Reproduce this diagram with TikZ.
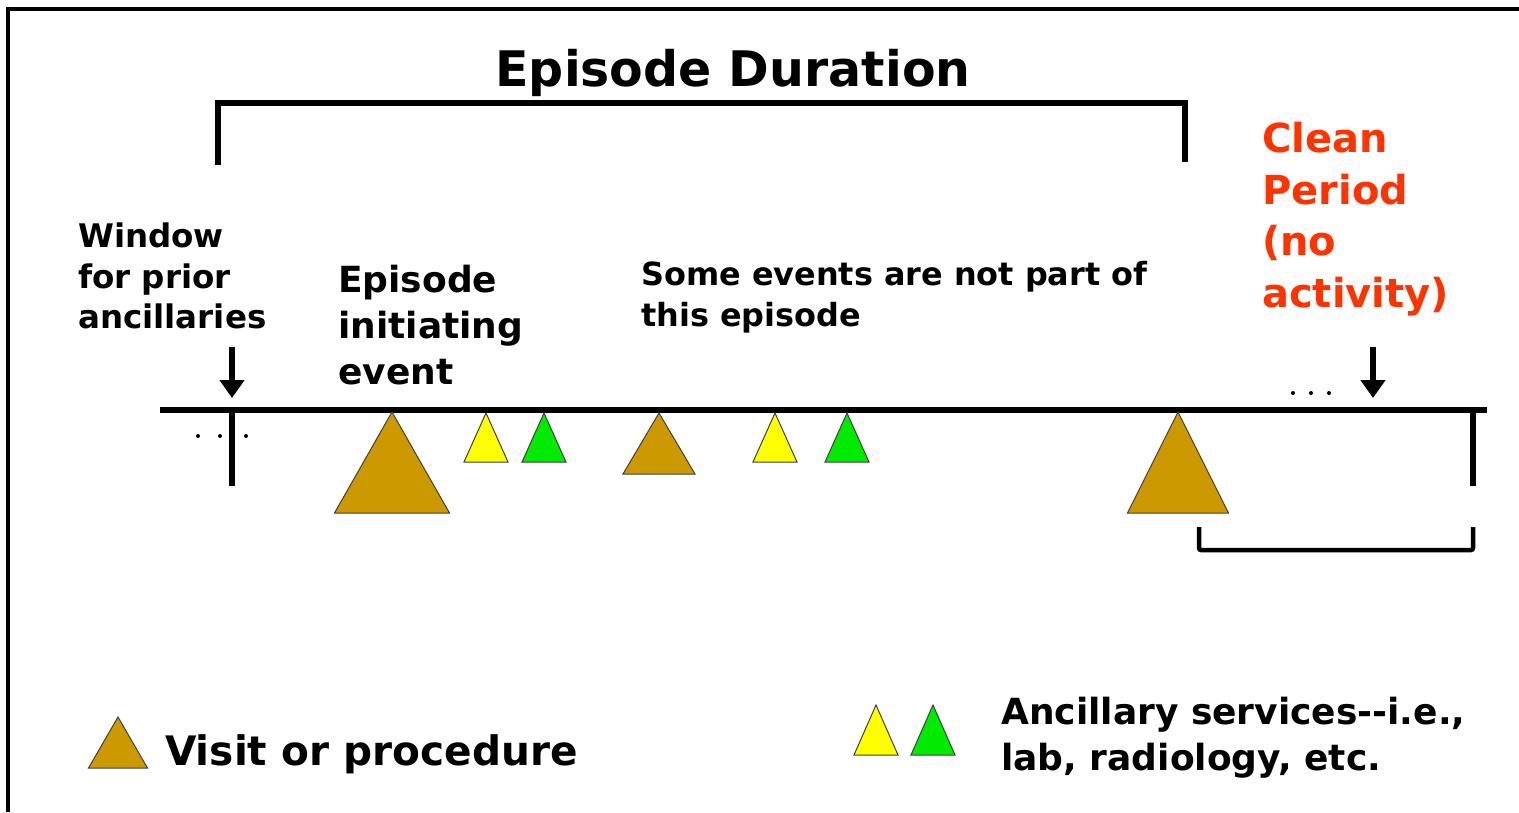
\documentclass[tikz,border=0pt]{standalone}
\usepackage{fontspec}
\setmainfont{DejaVu Sans}
\usetikzlibrary{arrows.meta}

\definecolor{visitbrown}{RGB}{204,153,0}
\definecolor{labyellow}{RGB}{255,255,0}
\definecolor{labgreen}{RGB}{0,235,0}
\definecolor{cleanred}{RGB}{255,51,0}

\tikzset{
  heavy/.style={line width=6pt},
  txt/.style={inner sep=0pt, align=left, anchor=north west},
  evt/.style={draw=black!75, line width=1pt},
  pointer/.style={line width=5.5pt, -{Triangle[width=24pt,length=18pt]}},
}
% event triangle: apex x, apex y, half width, base y, fill
\newcommand{\evtTri}[5]{\filldraw[evt, fill=#5] (#1,#2) -- (#1-#3,#4) -- (#1+#3,#4) -- cycle;}

\begin{document}
\begin{tikzpicture}[x=1pt, y=-1pt]
    \useasboundingbox (0,0) rectangle (1519,812);
    \draw[line width=3.5pt] (8,812) -- (8,9) -- (1519,9);

    % episode duration bracket
    \node[anchor=base, inner sep=0pt, font=\fontsize{49}{58}\selectfont\bfseries] (dur) at (733,86) {Episode Duration};
    \coordinate (durL) at (218,165);
    \coordinate (durR) at (1185,162);
    \draw[heavy] (durL) -- (218,103) -- (1185,103) -- (durR);

    % time line
    \coordinate (tlW) at (160,410);
    \coordinate (tlE) at (1487,410);
    \coordinate (tickL) at (232,410);
    \coordinate (tickR) at (1473,410);
    \draw[heavy] (tlW) -- (tlE);
    \draw[heavy] (tickL) -- (232,486);
    \draw[heavy] (tickR) -- (1473,486);
    \foreach \x in {198,220,246} \fill (\x,436) circle (2pt);
    \foreach \x in {1293,1311,1329} \fill (\x,393) circle (2pt);

    % clean period bracket
    \draw[line width=4.5pt, rounded corners=2pt] (1199,527) -- (1199,550) -- (1473,550) -- (1473,527);

    % labels
    \node[txt, font=\fontsize{32.5}{40.5}\selectfont\bfseries] (win) at (78,223) {Window\\for prior\\ancillaries};
    \node[txt, font=\fontsize{36}{46}\selectfont\bfseries] (init) at (338,265) {Episode\\initiating\\event};
    \node[txt, font=\fontsize{31.9}{41}\selectfont\bfseries] (some) at (641,261) {Some events are not part of\\this episode};
    \node[txt, text=cleanred, font=\fontsize{40}{51.5}\selectfont\bfseries] (clean) at (1262,122) {Clean\\Period\\(no\\activity)};

    % pointers
    \coordinate (winA) at (232,347);
    \coordinate (winB) at (232,398);
    \coordinate (cleanA) at (1373,347);
    \coordinate (cleanB) at (1373,398);
    \draw[pointer] (winA) -- (winB);
    \draw[pointer] (cleanA) -- (cleanB);

    % events
    \evtTri{392}{412}{57.5}{513}{visitbrown}
    \evtTri{486}{413}{22}{462}{labyellow}
    \evtTri{544}{413}{22}{462}{labgreen}
    \evtTri{659}{413}{36}{474}{visitbrown}
    \evtTri{775}{413}{22}{462}{labyellow}
    \evtTri{847}{413}{22}{462}{labgreen}
    \evtTri{1178}{412}{50.5}{513}{visitbrown}

    % legend
    \evtTri{118}{717}{29.5}{768}{visitbrown}
    \node[anchor=base west, inner sep=0pt, font=\fontsize{40.6}{48}\selectfont\bfseries] (visit) at (165,765) {Visit or procedure};
    \evtTri{876}{705}{22}{755}{labyellow}
    \evtTri{933}{705}{22}{755}{labgreen}
    \node[txt, font=\fontsize{36}{46}\selectfont\bfseries] (anc) at (1001,697) {Ancillary services-{}-i.e.,\\lab, radiology, etc.};
\end{tikzpicture}
\end{document}
